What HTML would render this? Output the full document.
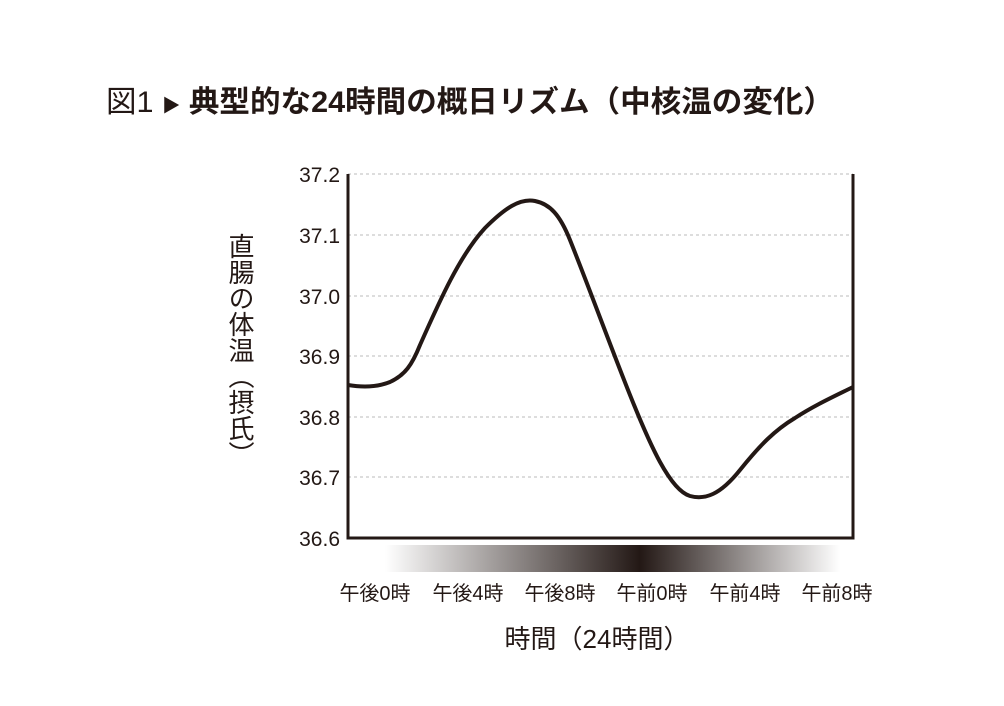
<!DOCTYPE html>
<html><head><meta charset="utf-8"><style>
body{margin:0;background:#fff;width:1004px;height:706px;overflow:hidden;font-family:"Liberation Sans","Noto Sans CJK JP",sans-serif;color:#231815}
</style></head><body>
<svg width="1004" height="706" xmlns="http://www.w3.org/2000/svg" style="position:absolute;left:0;top:0">
<defs><linearGradient id="g" x1="0" x2="1"><stop offset="0" stop-color="#fff"/><stop offset="0.56" stop-color="#231815"/><stop offset="1" stop-color="#fff"/></linearGradient></defs>
<text x="106" y="112" font-size="30" font-family="Liberation Sans,Noto Sans CJK JP,sans-serif" fill="#231815" textLength="728" lengthAdjust="spacingAndGlyphs">図1 <tspan font-size="18">▶</tspan> <tspan font-weight="bold">典型的な24時間の概日リズム（中核温の変化）</tspan></text>
<g stroke="#bbb" stroke-dasharray="3,3" stroke-width="1">
<line x1="348" x2="853" y1="174" y2="174"/><line x1="348" x2="853" y1="235" y2="235"/><line x1="348" x2="853" y1="296" y2="296"/><line x1="348" x2="853" y1="356" y2="356"/><line x1="348" x2="853" y1="417" y2="417"/><line x1="348" x2="853" y1="477" y2="477"/>
</g>
<rect x="385" y="545" width="455" height="27" fill="url(#g)"/>
<path d="M348,174 V538 H853 V174" fill="none" stroke="#231815" stroke-width="3"/>
<path d="M348,385 C360,387 375,388 390,382 C405,375 412,365 420,345 C440,300 460,255 485,228 C505,208 520,198 535,201 C550,204 560,215 570,240 C590,290 610,345 630,395 C650,445 670,490 690,496 C705,500 720,495 740,470 C760,445 775,430 795,418 C815,405 835,396 853,387" fill="none" stroke="#231815" stroke-width="4"/>
<g font-size="21" text-anchor="end" fill="#231815">
<text x="340" y="182">37.2</text><text x="340" y="243">37.1</text><text x="340" y="304">37.0</text><text x="340" y="364">36.9</text><text x="340" y="425">36.8</text><text x="340" y="485">36.7</text><text x="340" y="546">36.6</text>
</g>
<g font-size="20" text-anchor="middle" fill="#231815">
<text x="375" y="600">午後0時</text><text x="468" y="600">午後4時</text><text x="560" y="600">午後8時</text><text x="652" y="600">午前0時</text><text x="745" y="600">午前4時</text><text x="837" y="600">午前8時</text>
</g>
<text x="597" y="648" font-size="26" text-anchor="middle" fill="#231815">時間（24時間）</text>
<text x="240" y="233" font-size="26" fill="#231815" style="writing-mode:vertical-rl">直腸の体温（摂氏）</text>
</svg>
</body></html>
